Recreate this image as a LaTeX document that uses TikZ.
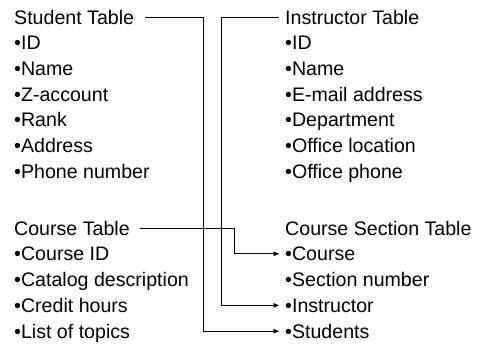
\documentclass[tikz,border=0pt]{standalone}
\usepackage{fontspec}
\setmainfont{Liberation Sans}
\usetikzlibrary{arrows.meta}
\begin{document}
\begin{tikzpicture}[x=1pt,y=-1pt,
  item/.style={anchor=base west,inner sep=0pt,text height=14pt,text depth=0pt,
    font=\fontsize{19.6}{23}\selectfont},
  link/.style={line width=1pt},
  linkarrow/.style={link,-{Triangle[length=5.5pt,width=4.5pt]}}]
\useasboundingbox (0,0) rectangle (478,343);
% left column: Student table
\node[item] (stud) at (14,24) {Student Table};
\node[item] (stud1) at (14,49.7) {•ID};
\node[item] (stud2) at (14,75.4) {•Name};
\node[item] (stud3) at (14,101.1) {•Z-account};
\node[item] (stud4) at (14,126.8) {•Rank};
\node[item] (stud5) at (14,152.5) {•Address};
\node[item] (stud6) at (14,178.2) {•Phone number};
% left column: Course table
\node[item] (crs) at (14,235) {Course Table};
\node[item] (crs1) at (14,260.8) {•Course ID};
\node[item] (crs2) at (14,286.6) {•Catalog description};
\node[item] (crs3) at (14,312.4) {•Credit hours};
\node[item] (crs4) at (14,338.2) {•List of topics};
% right column: Instructor table
\node[item] (ins) at (285,24) {Instructor Table};
\node[item] (ins1) at (285,49.7) {•ID};
\node[item] (ins2) at (285,75.4) {•Name};
\node[item] (ins3) at (285,101.1) {•E-mail address};
\node[item] (ins4) at (285,126.8) {•Department};
\node[item] (ins5) at (285,152.5) {•Office location};
\node[item] (ins6) at (285,178.2) {•Office phone};
% right column: Course section table
\node[item] (sec) at (285,235) {Course Section Table};
\node[item] (seccourse) at (285,260.8) {•Course};
\node[item] (secnum) at (285,286.6) {•Section number};
\node[item] (secins) at (285,312.4) {•Instructor};
\node[item] (secstud) at (285,338.2) {•Students};
% vertical routing channels
\coordinate (vs) at (203,0);
\coordinate (vi) at (221,0);
\coordinate (vc) at (234,0);
% foreign-key links
\draw[linkarrow] ([xshift=10.5pt]stud.east) -| (vs |- secstud.west) -- ([xshift=-6pt]secstud.west);
\draw[linkarrow] ([xshift=-6pt]ins.west) -| (vi |- secins.west) -- ([xshift=-6pt]secins.west);
\draw[linkarrow] ([xshift=10.5pt]crs.east) -| (vc |- seccourse.west) -- ([xshift=-6pt]seccourse.west);
\end{tikzpicture}
\end{document}
